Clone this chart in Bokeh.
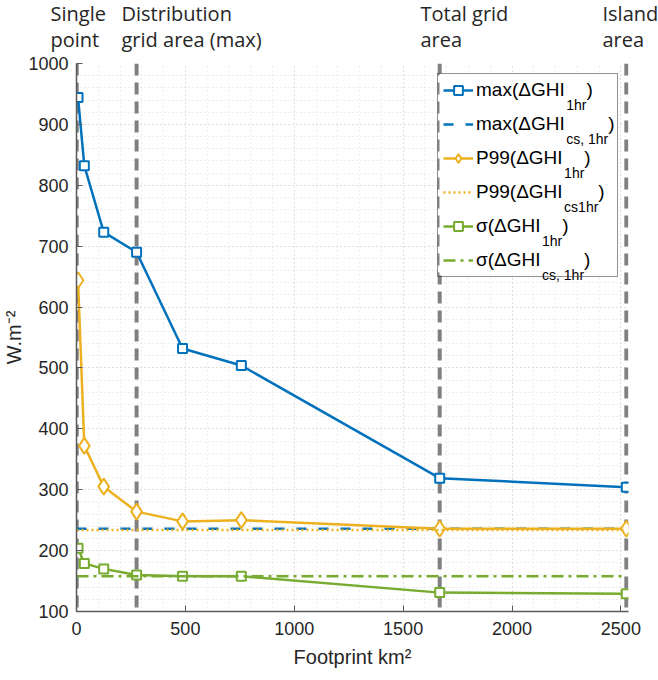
from bokeh.plotting import figure
from bokeh.models import Legend, LegendItem, Label, Span, SingleIntervalTicker, Range1d, BoxAnnotation
from bokeh.layouts import column
from bokeh.core.properties import value
from bokeh.embed import file_html
from bokeh.resources import INLINE

# ---------------- data ----------------
footprint = [7, 36, 125, 276, 487, 757, 1668, 2525]
max_dghi = [944, 832, 723, 690, 532, 504, 319, 304]
p99_dghi = [644, 372, 305, 264, 248, 250, 236, 236]
std_dghi = [204, 179, 170, 160, 158, 158, 131, 129]
cs_extent = [0, 2525]
max_cs = 236
p99_cs = 234
std_cs = 158
boundary_x = [1, 276, 1668, 2525]
boundary_line1 = ["Single", "Distribution", "Total grid", "Island"]
boundary_line2 = ["point", "grid area (max)", "area", "area"]
legend_main = ["max(ΔGHI", "max(ΔGHI", "P99(ΔGHI", "P99(ΔGHI", "σ(ΔGHI", "σ(ΔGHI"]
legend_sub = ["1hr", "cs, 1hr", "1hr", "cs1hr", "1hr", "cs, 1hr"]

BLUE = "#0072BD"
YELLOW = "#EDB120"
GREEN = "#77AC30"
GRAY = "#808080"
TXT = "#262626"

X0, X1 = 0, 2535
Y0, Y1 = 100, 1000
TOP_H = 53                      # height of the title strip
FL, FT, FW, FH = 76, 63, 552, 548

# ---------------- title strip (texts above the plot) ----------------
t = figure(width=658, height=TOP_H, x_range=Range1d(0, 658), y_range=Range1d(TOP_H, 0),
           output_backend="svg", toolbar_location=None, x_axis_location=None, y_axis_location=None,
           min_border=0)
t.outline_line_color = None
t.grid.visible = False
t.background_fill_color = "white"
t.border_fill_color = "white"
title_px = [50, 121, 420, 602]
tx_all, ty_all, tt_all = [], [], []
for tx, l1, l2 in zip(title_px, boundary_line1, boundary_line2):
    tx_all += [tx, tx]
    ty_all += [12.5, 38.5]
    tt_all += [l1, l2]
t.text(x=tx_all, y=ty_all, text=tt_all, text_font=value("Open Sans"), text_font_size=value("20px"),
       text_color=TXT, text_baseline="alphabetic", text_align="left")

# ---------------- main plot ----------------
p = figure(frame_width=FW, frame_height=FH, x_range=Range1d(X0, X1), y_range=Range1d(Y0, Y1),
           output_backend="svg", toolbar_location=None,
           min_border_left=FL, min_border_right=658 - FL - FW, min_border_top=FT - TOP_H,
           min_border_bottom=680 - FT - FH)
p.outline_line_color = None
p.background_fill_color = "white"
p.border_fill_color = "white"

for fig in (t, p):
    try:
        fig.frame_align = False
    except Exception:
        pass

p.xaxis.ticker = SingleIntervalTicker(interval=500, num_minor_ticks=5)
p.yaxis.ticker = SingleIntervalTicker(interval=100, num_minor_ticks=5)
for ax in (p.xaxis[0], p.yaxis[0]):
    ax.major_tick_in = 6
    ax.major_tick_out = 0
    ax.minor_tick_in = 0
    ax.minor_tick_out = 0
    ax.axis_line_color = "#5a5a5a"
    ax.axis_line_width = 1.5
    ax.major_tick_line_color = "#5a5a5a"
    ax.major_label_text_font = "Liberation Sans"
    ax.major_label_text_font_size = "18px"
    ax.major_label_text_color = TXT
    ax.axis_label_text_font = "Liberation Sans"
    ax.axis_label_text_font_size = "20px"
    ax.axis_label_text_font_style = "normal"
    ax.axis_label_text_color = TXT
p.xaxis.axis_label = "Footprint km²"
p.yaxis.axis_label = "W.m⁻²"
p.xaxis.major_label_standoff = 10
p.xaxis.axis_label_standoff = 8
p.yaxis.major_label_standoff = 8
p.yaxis.axis_label_standoff = 0

for g in (p.xgrid[0], p.ygrid[0]):
    g.grid_line_color = "#d0d0d0"
    g.grid_line_dash = "1 3"
    g.grid_line_width = 1
    g.minor_grid_line_color = "#dcdcdc"
    g.minor_grid_line_dash = "1 3"
    g.minor_grid_line_width = 1

for bx in boundary_x:
    sp = Span(location=bx, dimension="height", line_color=GRAY, line_width=4, line_dash="12 7")
    sp.level = "underlay"
    p.add_layout(sp)


def px_x(px):
    return X0 + (px - FL) * (X1 - X0) / FW


def px_y(py):
    return Y1 - (py - FT) * (Y1 - Y0) / FH


PAD, GW, STAND, LW, MARG = 5, 30, 3, 136, 10
legend_width = 2 * PAD + GW + STAND + LW
ROW_H, ROW_SP = 22, 12
n_rows = len(legend_main)
legend_height = 2 * PAD + n_rows * ROW_H + (n_rows - 1) * ROW_SP
leg_left = FL + FW - MARG - legend_width
leg_top = FT + MARG

# white backing for the (transparent) legend so the grid does not show through
back = BoxAnnotation(left=px_x(leg_left), right=px_x(leg_left + legend_width),
                     top=px_y(leg_top), bottom=px_y(leg_top + legend_height),
                     fill_color="white", fill_alpha=1, line_color=None)
back.level = "underlay"
p.add_layout(back)

# series
r_max_l = p.line(footprint, max_dghi, line_color=BLUE, line_width=2.5)
r_max_p = p.scatter(footprint, max_dghi, marker="square", size=9, line_color=BLUE, line_width=2, fill_color="white")
r_max_cs = p.line(cs_extent, [max_cs] * 2, line_color=BLUE, line_width=2.5, line_dash="10 12")
r_p99_l = p.line(footprint, p99_dghi, line_color=YELLOW, line_width=2.5)
r_p99_p = p.scatter(footprint, p99_dghi, marker="diamond", size=16, line_color=YELLOW, line_width=2, fill_color="white")
r_p99_cs = p.line(cs_extent, [p99_cs] * 2, line_color=YELLOW, line_width=2.5, line_dash="2 3")
r_std_l = p.line(footprint, std_dghi, line_color=GREEN, line_width=2.5)
r_std_p = p.scatter(footprint, std_dghi, marker="square", size=9, line_color=GREEN, line_width=2, fill_color="white")
r_std_cs = p.line(cs_extent, [std_cs] * 2, line_color=GREEN, line_width=2.5, line_dash="12 5 3 5")

# Arial / Liberation Sans advance widths (em)
W = {"m": .833, "a": .556, "x": .5, "(": .333, ")": .333, "Δ": .668, "G": .778, "H": .722, "I": .278,
     "P": .667, "9": .556, "σ": .617, "c": .5, "s": .5, ",": .278, " ": .278, "1": .556, "h": .556, "r": .333}


def text_w(txt, size):
    return sum(W.get(ch, .556) for ch in txt) * size


label_x0 = leg_left + PAD + GW + STAND
for i, (main, sub) in enumerate(zip(legend_main, legend_sub)):
    cy = leg_top + PAD + ROW_H / 2 + (ROW_H + ROW_SP) * i
    sx = label_x0 + text_w(main, 19)
    p.add_layout(Label(x=px_x(sx), y=px_y(cy + 15), text=sub, text_font="Liberation Sans",
                       text_font_size="14px", text_color="black", text_baseline="alphabetic"))
    ex = sx + text_w(sub, 14)
    p.add_layout(Label(x=px_x(ex), y=px_y(cy), text=")", text_font="Liberation Sans",
                       text_font_size="19px", text_color="black", text_baseline="middle"))

renderer_sets = [[r_max_l, r_max_p], [r_max_cs], [r_p99_l, r_p99_p], [r_p99_cs], [r_std_l, r_std_p], [r_std_cs]]
items = [LegendItem(label=lab, renderers=rs) for lab, rs in zip(legend_main, renderer_sets)]
legend = Legend(items=items, location="top_right", margin=MARG, padding=PAD, spacing=ROW_SP,
                glyph_width=GW, glyph_height=ROW_H, label_height=ROW_H, label_width=LW,
                label_standoff=STAND, border_line_color=TXT, border_line_width=1,
                label_text_font="Liberation Sans", label_text_font_size="19px",
                label_text_color="black", background_fill_alpha=0)
p.add_layout(legend)

layout = column(t, p, spacing=0)
open("out.html", "w").write(file_html(layout, INLINE))
